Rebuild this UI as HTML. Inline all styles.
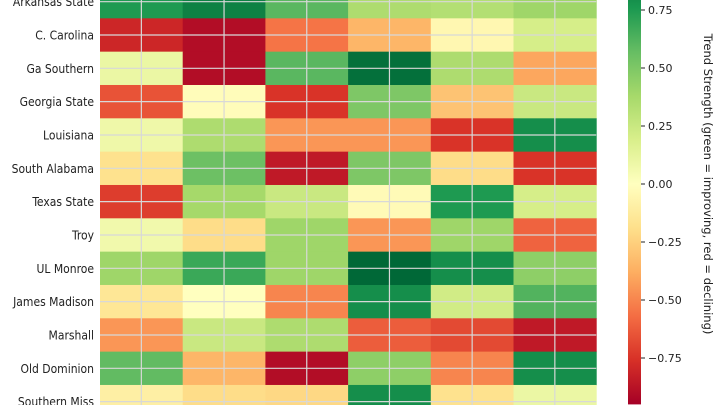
<!DOCTYPE html>
<html><head><meta charset="utf-8"><style>
body{margin:0;background:#fff;width:720px;height:405px;overflow:hidden}
svg{display:block;font-family:"DejaVu Sans","Liberation Sans",sans-serif}
</style></head><body>
<svg id="c" width="720" height="405"></svg>
<script>
const teams=["Arkansas State","C. Carolina","Ga Southern","Georgia State","Louisiana","South Alabama","Texas State","Troy","UL Monroe","James Madison","Marshall","Old Dominion","Southern Miss"];
const values=[
[0.75,0.85,0.6,0.35,0.33,0.4],
[-0.8,-0.9,-0.55,-0.35,-0.05,0.2],
[0.1,-0.9,0.6,0.92,0.35,-0.4],
[-0.65,-0.02,-0.75,0.5,-0.3,0.25],
[0.08,0.35,-0.45,-0.45,-0.75,0.8],
[-0.18,0.55,-0.85,0.5,-0.2,-0.75],
[-0.72,0.38,0.25,-0.03,0.75,0.2],
[0.07,-0.2,0.4,-0.45,0.4,-0.6],
[0.4,0.68,0.4,0.95,0.8,0.45],
[-0.15,0.0,-0.5,0.8,0.22,0.62],
[-0.45,0.25,0.35,-0.62,-0.68,-0.85],
[0.58,-0.35,-0.9,0.45,-0.5,0.8],
[-0.1,-0.2,-0.22,0.8,-0.18,0.1]];
const cbTicks=[0.75,0.5,0.25,0,-0.25,-0.5,-0.75];
const cbLabels=["0.75","0.50","0.25","0.00","\u22120.25","\u22120.50","\u22120.75"];
const vmax=0.95;
const stops=["#a50026","#d73027","#f46d43","#fdae61","#fee08b","#ffffbf","#d9ef8b","#a6d96a","#66bd63","#1a9850","#006837"];
function hex(h){return [1,3,5].map(i=>parseInt(h.substr(i,2),16));}
function cmap(v){let t=(v+vmax)/(2*vmax);t=Math.max(0,Math.min(1,t))*10;const i=Math.min(9,Math.floor(t)),f=t-i;const a=hex(stops[i]),b=hex(stops[i+1]);return `rgb(${a.map((x,k)=>Math.round(x+(b[k]-x)*f)).join(",")})`;}
const x0=100,cw=82.7,y0=-15,rh=33.33;
const X=j=>x0+j*cw, Y=i=>y0+i*rh;
const cbY=v=>184-v*232;
const svg=document.getElementById('c');const NS="http://www.w3.org/2000/svg";
function el(t,a,p){const e=document.createElementNS(NS,t);for(const k in a)e.setAttribute(k,a[k]);(p||svg).appendChild(e);return e;}
values.forEach((row,i)=>row.forEach((v,j)=>{
 const r=el('rect',{x:X(j),y:Y(i),width:cw+0.5,height:rh+0.5,fill:cmap(v)});
 
 
}));
for(let j=0;j<6;j++){const l=el('line',{x1:X(j)+cw/2,x2:X(j)+cw/2,y1:0,y2:405,stroke:"#d8d8d8","stroke-width":1.2});
 }
teams.forEach((t,i)=>{const yc=Y(i)+rh/2;
 const l=el('line',{x1:x0,x2:X(6),y1:yc,y2:yc,stroke:"#d8d8d8","stroke-width":1.2});
 
 const tx=el('text',{x:94,y:yc+4.5,"text-anchor":"end","font-size":12,fill:"#222","font-family":"DejaVu Sans Condensed, DejaVu Sans, sans-serif"});tx.textContent=t;
 });
const defs=el('defs',{});const g=el('linearGradient',{id:'g',x1:0,y1:1,x2:0,y2:0},defs);
stops.forEach((s,k)=>el('stop',{offset:k/10,'stop-color':s},g));
const cb=el('rect',{x:628,y:cbY(vmax),width:13,height:cbY(-vmax)-cbY(vmax),fill:'url(#g)'});

cbTicks.forEach((v,k)=>{const y=cbY(v);el('line',{x1:641,x2:645,y1:y,y2:y,stroke:"#222"});
 const t=el('text',{x:648,y:y+4,"font-size":11,fill:"#222"});t.textContent=cbLabels[k];
 });
const tt=el('text',{x:704,y:184,"font-size":11.5,fill:"#222","text-anchor":"middle",transform:"rotate(90 704 184)"});
tt.textContent="Trend Strength (green = improving, red = declining)";

</script></body></html>
